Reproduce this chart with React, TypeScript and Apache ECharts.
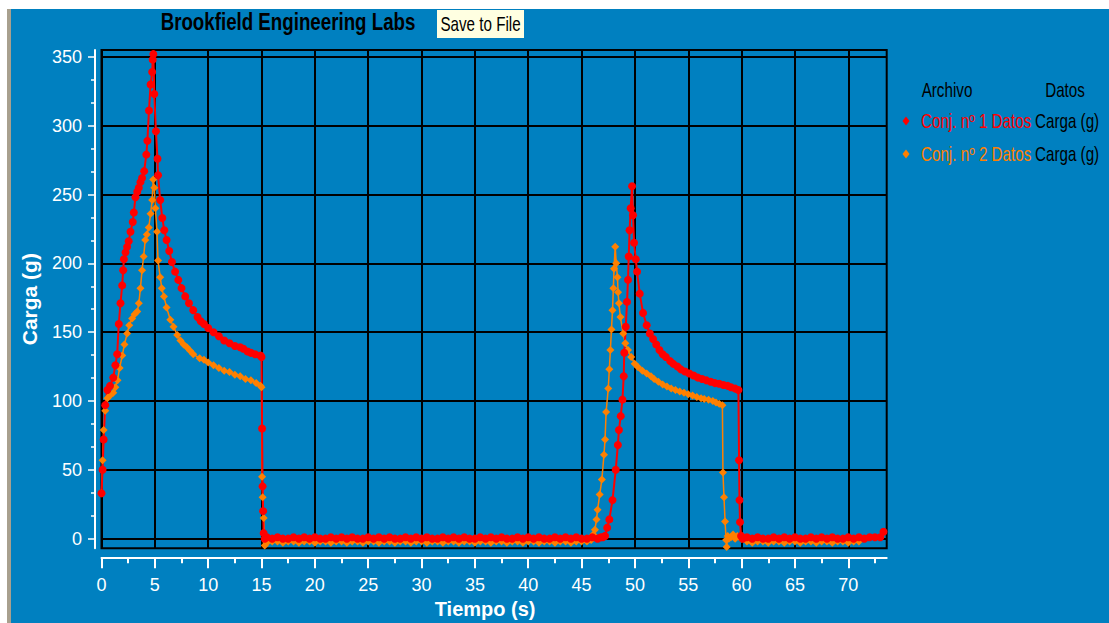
import React, { useEffect, useRef } from 'react';
import * as echarts from 'echarts';

const FONT = '"Liberation Sans", Arial, sans-serif';

const TITLE = 'Brookfield Engineering Labs';
const BUTTON_TEXT = 'Save to File';
const X_NAME = 'Tiempo (s)';
const Y_NAME = 'Carga (g)';
const LEGEND_HEAD = ['Archivo', 'Datos'];
const SERIES_NAMES = ['Conj. nº 1 Datos', 'Conj. nº 2 Datos'];
const DATA_NAMES = ['Carga (g)', 'Carga (g)'];
const COLORS = ['#FF0000', '#FF8000'];
const X_TICKS = [0, 5, 10, 15, 20, 25, 30, 35, 40, 45, 50, 55, 60, 65, 70];
const Y_TICKS = [0, 50, 100, 150, 200, 250, 300, 350];

// Conj. nº 1 (red)
const conj1Peak1: [number, number][] = [
  [0, 33], [0.1, 50], [0.2, 72], [0.35, 97], [0.55, 108], [0.8, 111], [1.1, 117], [1.3, 126], [1.47, 134], [1.62, 156],
  [1.78, 171], [1.94, 184], [2.03, 195], [2.1, 203], [2.25, 208], [2.4, 212], [2.55, 216], [2.72, 223], [2.93, 230], [3.03, 237],
  [3.18, 248], [3.35, 252], [3.5, 255], [3.65, 259], [3.8, 262], [4.0, 267], [4.2, 279], [4.3, 289], [4.45, 311], [4.6, 330],
  [4.75, 339], [4.8, 348], [4.86, 352], [4.95, 323], [5.1, 296], [5.25, 276], [5.3, 264], [5.5, 246], [5.7, 233], [5.88, 224],
  [6.1, 217], [6.35, 209], [6.6, 201], [6.9, 194], [7.2, 188], [7.5, 182], [7.85, 176], [8.2, 171], [8.6, 166], [9.0, 161],
  [9.3, 158], [9.6, 156], [10.0, 153], [10.5, 150], [11.0, 147], [11.5, 144], [12.0, 142], [12.5, 140], [13.0, 139], [13.3, 138],
  [13.7, 136], [14.0, 135], [14.4, 134], [14.9, 133], [15.0, 132], [15.05, 80], [15.1, 38], [15.15, 20], [15.2, 4], [15.3, 0],
];
const conj1Idle1: [number, number][] = [
  [15.5, 1], [16, 0], [16.5, 1], [17, 0], [17.5, 0], [18, 1], [18.5, 0], [19, 1], [19.5, 0], [20, 1],
  [20.5, 0], [21, 0], [21.5, 1], [22, 0], [22.5, 1], [23, 0], [23.5, 1], [24, 0], [24.5, 0], [25, 1],
  [25.5, 0], [26, 1], [26.5, 0], [27, 1], [27.5, 0], [28, 0], [28.5, 1], [29, 0], [29.5, 1], [30, 0],
  [30.5, 1], [31, 0], [31.5, 0], [32, 1], [32.5, 0], [33, 1], [33.5, 0], [34, 1], [34.5, 0], [35, 0],
  [35.5, 1], [36, 0], [36.5, 1], [37, 0], [37.5, 1], [38, 0], [38.5, 0], [39, 1], [39.5, 0], [40, 1],
  [40.5, 0], [41, 1], [41.5, 0], [42, 0], [42.5, 1], [43, 0], [43.5, 1], [44, 0], [44.5, 1], [45, 0],
  [45.5, 0], [46, 1], [46.5, 0],
];
const conj1Peak2: [number, number][] = [
  [46.8, 1], [47.0, 1], [47.2, 2], [47.4, 8], [47.6, 14], [47.9, 28], [48.2, 50], [48.4, 68], [48.5, 79], [48.67, 89],
  [48.83, 101], [48.95, 118], [49.0, 135], [49.14, 154], [49.26, 172], [49.35, 188], [49.42, 205], [49.5, 224], [49.6, 240], [49.73, 256],
  [49.82, 235], [49.92, 215], [50.08, 203], [50.2, 194], [50.45, 178], [50.76, 164], [51.1, 155], [51.4, 149], [51.7, 145], [52.0, 141],
  [52.3, 137], [52.6, 134], [52.9, 132], [53.3, 129], [53.6, 127], [54.0, 125], [54.3, 123], [54.7, 121.5], [55.1, 120], [55.5, 118.5],
  [55.9, 117], [56.3, 116], [56.7, 115], [57.1, 114], [57.5, 113], [57.9, 112.5], [58.3, 111.6], [58.7, 111], [59.0, 110], [59.4, 109],
  [59.7, 108], [59.76, 57], [59.8, 28], [59.85, 12], [59.95, 2], [60.1, 0],
];
const conj1Idle2: [number, number][] = [
  [60.5, 1], [61, 0], [61.5, 1], [62, 0], [62.5, 0], [63, 1], [63.5, 0], [64, 1], [64.5, 0], [65, 1],
  [65.5, 0], [66, 0], [66.5, 1], [67, 0], [67.5, 1], [68, 0], [68.5, 1], [69, 0], [69.5, 0], [70, 1],
  [70.5, 0], [71, 1], [71.5, 0], [72, 1], [72.5, 1], [73, 1], [73.3, 5],
];

// Conj. nº 2 (orange)
const conj2Peak1: [number, number][] = [
  [0, 33], [0.1, 57], [0.2, 79], [0.35, 93], [0.55, 102], [0.8, 104], [1.1, 106], [1.3, 110], [1.5, 115], [1.7, 124],
  [1.94, 133], [2.15, 141], [2.4, 149], [2.6, 155], [2.87, 160], [3.1, 163], [3.35, 165], [3.5, 171], [3.65, 182], [3.8, 195],
  [3.95, 205], [4.1, 217], [4.25, 221], [4.43, 226], [4.6, 236], [4.75, 246], [4.85, 261], [4.95, 255], [5.05, 240], [5.2, 223],
  [5.3, 202], [5.5, 190], [5.65, 182], [5.85, 176], [6.1, 168], [6.45, 159], [6.75, 154], [7.1, 148], [7.4, 144], [7.7, 141],
  [8.0, 139], [8.3, 136.5], [8.6, 134], [9.2, 131], [9.6, 130], [10.0, 128], [10.5, 126], [11.0, 124], [11.5, 122], [12.0, 121],
  [12.5, 119], [13.0, 118], [13.5, 116], [14.0, 115], [14.5, 113], [14.9, 111], [15.0, 110], [15.05, 45], [15.1, 30], [15.2, 15],
  [15.3, -5], [15.4, -2],
];
const conj2Idle1: [number, number][] = [
  [15.5, -3], [16, -2], [16.5, -2], [17, -3], [17.5, -2], [18, -2], [18.5, -3], [19, -2], [19.5, -2], [20, -3],
  [20.5, -2], [21, -2], [21.5, -3], [22, -2], [22.5, -2], [23, -3], [23.5, -2], [24, -2], [24.5, -3], [25, -2],
  [25.5, -2], [26, -3], [26.5, -2], [27, -2], [27.5, -3], [28, -2], [28.5, -2], [29, -3], [29.5, -2], [30, -2],
  [30.5, -3], [31, -2], [31.5, -2], [32, -3], [32.5, -2], [33, -2], [33.5, -3], [34, -2], [34.5, -2], [35, -3],
  [35.5, -2], [36, -2], [36.5, -3], [37, -2], [37.5, -2], [38, -3], [38.5, -2], [39, -2], [39.5, -3], [40, -2],
  [40.5, -2], [41, -3], [41.5, -2], [42, -2], [42.5, -3], [43, -2], [43.5, -2], [44, -3], [44.5, -2], [45, -2],
  [45.5, -2],
];
const conj2Peak2: [number, number][] = [
  [45.9, -1], [46.1, 3], [46.25, 6.5], [46.4, 14], [46.5, 21], [46.7, 32], [46.9, 43], [47.1, 61], [47.2, 72], [47.3, 92],
  [47.5, 109], [47.6, 123], [47.7, 137], [47.8, 152], [47.9, 166], [47.98, 182], [48.04, 196], [48.15, 212], [48.25, 200], [48.36, 190],
  [48.42, 179], [48.5, 171], [48.64, 161], [48.9, 149], [49.1, 142], [49.35, 137], [49.65, 132], [49.98, 127], [50.3, 124.5], [50.7, 122],
  [51.1, 120], [51.5, 118], [51.8, 116], [52.2, 114], [52.6, 112], [53.0, 110.5], [53.4, 109], [53.8, 108], [54.2, 107], [54.6, 106],
  [55.0, 105], [55.4, 104], [55.8, 103], [56.2, 102], [56.5, 101.5], [56.9, 101], [57.3, 100], [57.6, 99], [57.9, 98], [58.2, 97],
  [58.25, 48], [58.35, 30], [58.45, 12.5], [58.55, -1], [58.6, -6], [58.7, 2], [58.8, 0], [59.0, 1], [59.2, 3], [59.4, 0],
  [59.6, 2], [59.8, 1], [60.0, 0],
];
const conj2Idle2: [number, number][] = [
  [60.5, -2], [61, -3], [61.5, -2], [62, -2], [62.5, -3], [63, -2], [63.5, -2], [64, -3], [64.5, -2], [65, -2],
  [65.5, -3], [66, -2], [66.5, -2], [67, -3], [67.5, -2], [68, -2], [68.5, -3], [69, -2], [69.5, -2], [70, -3],
  [70.5, -2], [71, -2],
];

const conj1 = [...conj1Peak1, ...conj1Idle1, ...conj1Peak2, ...conj1Idle2];
const conj2 = [...conj2Peak1, ...conj2Idle1, ...conj2Peak2, ...conj2Idle2];

function diamond(cx: number, cy: number, color: string) {
  return {
    type: 'polygon',
    shape: { points: [[cx, cy - 4.5], [cx + 3.5, cy], [cx, cy + 4.5], [cx - 3.5, cy]] },
    style: { fill: color },
  };
}

function txt(x: number, y: number, text: string, fill: string, font: string, align = 'left', scaleX = 0.76) {
  return {
    type: 'text',
    x,
    y,
    scaleX,
    style: { text, fill, font, align, verticalAlign: 'middle' },
  };
}

export default function App() {
  const ref = useRef<HTMLDivElement>(null);

  useEffect(() => {
    if (!ref.current) return;
    const chart = echarts.init(ref.current, undefined, { renderer: 'svg' });
    const legendFont = `20px ${FONT}`;
    const option: any = {
      animation: false,
      backgroundColor: '#0080C0',
      grid: {
        left: 90.5,
        right: 222.3,
        top: 41,
        bottom: 74.7,
        show: true,
        borderColor: '#000',
        borderWidth: 2,
        backgroundColor: 'transparent',
        outerBoundsMode: 'none',
      },
      xAxis: {
        type: 'value',
        min: 0,
        max: 73.6,
        interval: 5,
        offset: 9,
        axisLine: { show: true, onZero: false, lineStyle: { color: '#fff', width: 2 } },
        axisTick: { show: true, length: 11, customValues: X_TICKS, lineStyle: { color: '#fff', width: 2 } },
        minorTick: { show: true, splitNumber: 2, length: 6, lineStyle: { color: '#fff', width: 2 } },
        axisLabel: { color: '#fff', fontFamily: FONT, fontSize: 18, margin: 19, customValues: X_TICKS },
        splitLine: { show: true, lineStyle: { color: '#000', width: 2 } },
        minorSplitLine: { show: false },
        name: X_NAME,
        nameLocation: 'middle',
        nameGap: 42,
        nameTextStyle: { color: '#fff', fontWeight: 'bold', fontSize: 20, fontFamily: FONT, padding: [0, 18, 0, 0] },
      },
      yAxis: {
        type: 'value',
        min: -7,
        max: 355,
        splitNumber: 7,
        minInterval: 50,
        maxInterval: 50,
        offset: 6.5,
        axisLine: { show: true, onZero: false, lineStyle: { color: '#fff', width: 2 } },
        axisTick: { show: true, length: 7, customValues: Y_TICKS, lineStyle: { color: '#fff', width: 1.5 } },
        minorTick: { show: true, splitNumber: 3, length: 4, lineStyle: { color: '#fff', width: 1.5 } },
        axisLabel: { color: '#fff', fontFamily: FONT, fontSize: 18, margin: 13, customValues: Y_TICKS },
        splitLine: { show: true, lineStyle: { color: '#000', width: 2 } },
        name: Y_NAME,
        nameLocation: 'middle',
        nameRotate: 90,
        nameGap: 55,
        nameTextStyle: { color: '#fff', fontWeight: 'bold', fontSize: 21, fontFamily: FONT },
      },
      series: [
        {
          name: SERIES_NAMES[1],
          type: 'line',
          data: conj2,
          symbol: 'diamond',
          symbolSize: 8,
          showSymbol: true,
          color: COLORS[1],
          lineStyle: { color: COLORS[1], width: 1.5 },
          itemStyle: { color: COLORS[1] },
        },
        {
          name: SERIES_NAMES[0],
          type: 'line',
          data: conj1,
          symbol: 'circle',
          symbolSize: 8,
          showSymbol: true,
          color: COLORS[0],
          lineStyle: { color: COLORS[0], width: 2 },
          itemStyle: { color: COLORS[0] },
        },
      ],
      graphic: [
        txt(277, 13, TITLE, '#000', `bold 24px ${FONT}`, 'center', 0.78),
        {
          type: 'rect',
          shape: { x: 426, y: 1, width: 87, height: 28 },
          style: { fill: '#FFFFE1' },
        },
        txt(469.5, 15, BUTTON_TEXT, '#000', `20px ${FONT}`, 'center'),
        txt(936, 81, LEGEND_HEAD[0], '#000', legendFont, 'center'),
        txt(1054, 81, LEGEND_HEAD[1], '#000', legendFont, 'center'),
        diamond(895, 112, COLORS[0]),
        txt(910, 112, SERIES_NAMES[0], COLORS[0], legendFont),
        txt(1024, 112, DATA_NAMES[0], '#000', legendFont),
        diamond(895, 145, COLORS[1]),
        txt(910, 145, SERIES_NAMES[1], COLORS[1], legendFont),
        txt(1024, 145, DATA_NAMES[1], '#000', legendFont),
      ],
    };
    chart.setOption(option);
    return () => chart.dispose();
  }, []);

  return (
    <div
      style={{
        position: 'absolute',
        left: 7,
        top: 9,
        width: 1098,
        height: 614,
        borderLeft: '4px solid #A8A08E',
        background: '#0080C0',
      }}
    >
      <div ref={ref} style={{ width: 1098, height: 614 }} />
    </div>
  );
}
